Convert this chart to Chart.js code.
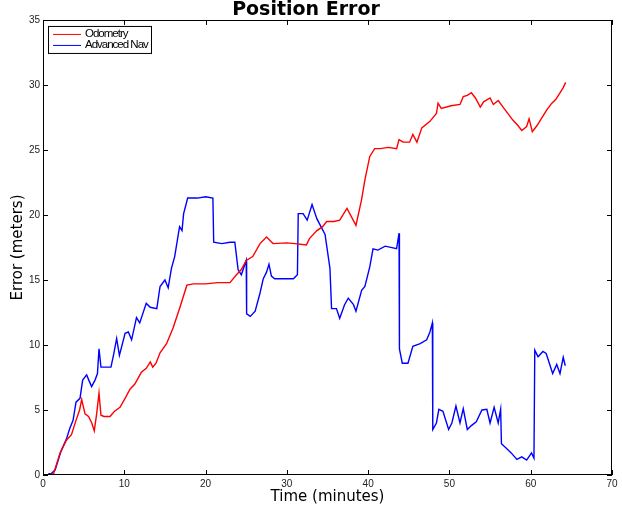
<!DOCTYPE html>
<html>
<head>
<meta charset="utf-8">
<title>Position Error</title>
<script src="https://cdn.jsdelivr.net/npm/chart.js@4/dist/chart.umd.min.js"></script>
<style>
  body { margin: 0; background: #fff; }
  #wrap { width: 622px; height: 507px; }
</style>
</head>
<body>
<div id="wrap"><canvas id="chart" width="622" height="507"></canvas></div>
<script>
// values (minutes, meters)
const odometryTime = [0.75, 1.3, 2.1, 2.9, 3.5, 4.06, 4.5, 4.76, 5.17, 5.6, 6.0, 6.31, 6.6, 6.89, 7.13, 7.5, 8.24, 8.8, 9.47, 10.1,
  10.7, 11.3, 12.1, 12.7, 13.2, 13.5, 13.9, 14.4, 15.2, 16.0, 16.85, 17.7, 18.5, 20.0, 21.5, 23.0, 23.8, 24.4, 25.0, 25.8,
  26.7, 27.5, 28.3, 30.0, 31.0, 32.4, 32.8, 33.7, 34.4, 34.9, 35.8, 36.5, 37.4, 38.0, 38.5, 39.2, 39.6, 40.2, 40.8, 41.5,
  42.5, 43.5, 43.8, 44.3, 45.1, 45.5, 46.0, 46.6, 47.6, 48.4, 48.6, 49.0, 50.2, 51.3, 51.7, 52.2, 52.7, 53.2, 53.8, 54.2,
  55.0, 55.4, 56.0, 56.6, 57.2, 57.8, 58.4, 58.9, 59.5, 59.8, 60.2, 60.8, 61.5, 62.0, 62.6, 63.1, 63.6, 64.0, 64.3];
const odometryError = [0, 0.1, 1.7, 2.7, 3.1, 4.2, 5.0, 5.8, 4.7, 4.5, 4.0, 3.4, 4.7, 6.3, 4.6, 4.5, 4.5, 4.9, 5.2, 5.9,
  6.6, 7.0, 7.9, 8.2, 8.7, 8.3, 8.6, 9.4, 10.1, 11.3, 12.9, 14.6, 14.7, 14.7, 14.8, 14.8, 15.4, 15.8, 16.5, 16.8,
  17.8, 18.3, 17.8, 17.85, 17.8, 17.7, 18.2, 18.8, 19.1, 19.5, 19.5, 19.6, 20.5, 19.8, 19.2, 21.2, 22.7, 24.5, 25.1, 25.1,
  25.2, 25.1, 25.8, 25.6, 25.6, 26.2, 25.6, 26.7, 27.2, 27.8, 28.6, 28.2, 28.4, 28.5, 29.1, 29.2, 29.4, 29.0, 28.3, 28.7,
  29.0, 28.5, 28.8, 28.3, 27.8, 27.3, 26.9, 26.5, 26.8, 27.4, 26.4, 26.9, 27.6, 28.1, 28.6, 28.9, 29.4, 29.8, 30.2];

const navTime = [0.65, 1.0, 1.5, 2.2, 2.9, 3.3, 3.7, 4.06, 4.55, 4.88, 5.37, 5.7, 5.98, 6.4, 6.7, 6.89, 7.13, 8.36, 8.7, 9.06,
  9.4, 10.1, 10.5, 10.9, 11.5, 11.9, 12.7, 13.2, 14.0, 14.4, 15.0, 15.4, 15.8, 16.2, 16.8, 17.1, 17.3, 17.8, 19.0, 20.0,
  20.9, 21.0, 22.0, 23.0, 23.6, 24.0, 24.4, 25.0, 25.05, 25.5, 26.1, 26.7, 27.1, 27.5, 27.8, 28.1, 28.5, 30.8, 31.3, 31.4,
  32.0, 32.5, 33.1, 33.7, 34.2, 34.7, 35.3, 35.5, 36.1, 36.5, 37.1, 37.55, 38.2, 38.5, 39.2, 39.6, 40.2, 40.6, 41.2, 42.1,
  43.5, 43.8, 43.85, 44.2, 44.9, 45.5, 46.4, 47.2, 47.6, 47.9, 47.95, 48.4, 48.7, 49.2, 49.9, 50.3, 50.8, 51.3, 51.7, 52.2,
  52.7, 53.3, 54.0, 54.6, 55.0, 55.5, 56.0, 56.3, 56.4, 57.0, 57.6, 58.3, 58.9, 59.5, 60.1, 60.4, 60.5, 60.9, 61.5, 61.9,
  62.7, 63.2, 63.6, 64.0, 64.25];
const navError = [0.1, 0.1, 0.4, 1.8, 2.8, 3.6, 4.2, 5.6, 5.9, 7.3, 7.7, 7.2, 6.8, 7.3, 7.8, 9.7, 8.3, 8.3, 9.3, 10.5,
  9.2, 10.9, 11.0, 10.4, 12.1, 11.7, 13.2, 12.9, 12.8, 14.5, 15.0, 14.4, 15.9, 16.8, 19.1, 18.8, 20.1, 21.3, 21.3, 21.4,
  21.3, 17.9, 17.8, 17.9, 17.9, 15.8, 15.4, 16.5, 12.4, 12.2, 12.6, 14.0, 15.1, 15.6, 16.2, 15.3, 15.1, 15.1, 15.4, 20.1,
  20.1, 19.6, 20.8, 19.7, 19.1, 18.5, 15.9, 12.8, 12.8, 12.05, 13.1, 13.6, 13.1, 12.6, 14.2, 14.5, 16.0, 17.4, 17.3, 17.6,
  17.4, 18.6, 9.7, 8.6, 8.6, 9.9, 10.1, 10.4, 11.0, 11.7, 3.5, 4.0, 5.05, 4.9, 3.5, 4.0, 5.3, 4.0, 5.1, 3.5,
  3.8, 4.1, 5.0, 5.05, 4.0, 5.2, 4.0, 5.05, 2.4, 2.05, 1.7, 1.2, 1.4, 1.15, 1.7, 1.3, 9.6, 9.1, 9.5, 9.35,
  7.8, 8.5, 7.8, 9.05, 8.4];

const seriesLabels = ['Odometry', 'Advanced Nav'];
const seriesColors = ['#ff0000', '#0000ff'];
const xTicks = [0, 10, 20, 30, 40, 50, 60, 70];
const yTicks = [0, 5, 10, 15, 20, 25, 30, 35];

function toPoints(xs, ys) {
  return xs.map((x, i) => ({ x: x, y: ys[i] }));
}

// matlab style box with inward ticks on all four sides
const boxPlugin = {
  id: 'box',
  afterDatasetsDraw(chart) {
    const { ctx, chartArea: a, scales } = chart;
    ctx.save();
    ctx.strokeStyle = '#000';
    ctx.lineWidth = 1;
    ctx.beginPath();
    xTicks.forEach(v => {
      const px = Math.round(scales.x.getPixelForValue(v)) + 0.5;
      ctx.moveTo(px, a.bottom); ctx.lineTo(px, a.bottom - 5);
      ctx.moveTo(px, a.top); ctx.lineTo(px, a.top + 5);
    });
    yTicks.forEach(v => {
      const py = Math.round(scales.y.getPixelForValue(v)) + 0.5;
      ctx.moveTo(a.left, py); ctx.lineTo(a.left + 5, py);
      ctx.moveTo(a.right, py); ctx.lineTo(a.right - 5, py);
    });
    ctx.stroke();
    ctx.strokeRect(Math.round(a.left) + 0.5, Math.round(a.top) + 0.5,
      Math.round(a.right - a.left) - 1, Math.round(a.bottom - a.top) - 1);
    ctx.restore();
  }
};

const legendPlugin = {
  id: 'boxLegend',
  afterDraw(chart) {
    const { ctx, chartArea: a } = chart;
    const x0 = a.left + 5, y0 = a.top + 6;
    ctx.save();
    ctx.fillStyle = '#fff';
    ctx.fillRect(x0, y0, 103, 27);
    ctx.strokeStyle = '#000';
    ctx.lineWidth = 1;
    ctx.strokeRect(x0 + 0.5, y0 + 0.5, 103, 27);
    ctx.font = '11.5px "Liberation Sans", Arial, sans-serif';
    ctx.letterSpacing = '-1px';
    ctx.textBaseline = 'middle';
    chart.data.datasets.forEach((ds, i) => {
      const y = y0 + 8 + i * 11;
      ctx.strokeStyle = ds.borderColor;
      ctx.beginPath();
      ctx.moveTo(x0 + 5, y + 0.5); ctx.lineTo(x0 + 33, y + 0.5);
      ctx.stroke();
      ctx.fillStyle = '#000';
      ctx.fillText(ds.label, x0 + 37, y);
    });
    ctx.restore();
  }
};

document.addEventListener('DOMContentLoaded', function () {
  const ctx = document.getElementById('chart').getContext('2d');
  new Chart(ctx, {
    type: 'line',
    data: {
      datasets: [
        { label: seriesLabels[0], data: toPoints(odometryTime, odometryError), borderColor: seriesColors[0] },
        { label: seriesLabels[1], data: toPoints(navTime, navError), borderColor: seriesColors[1] }
      ]
    },
    options: {
      responsive: false,
      animation: false,
      layout: { padding: { top: 0, right: 10, bottom: 0, left: 0 } },
      elements: {
        point: { radius: 0 },
        line: { borderWidth: 1.4, tension: 0 }
      },
      plugins: {
        legend: { display: false },
        tooltip: { enabled: false },
        title: {
          display: true,
          text: 'Position Error',
          color: '#000',
          font: { family: '"DejaVu Sans", sans-serif', size: 19, weight: 'bold', lineHeight: 1.05 },
          padding: { top: 0, bottom: 0 }
        }
      },
      scales: {
        x: {
          type: 'linear', min: 0, max: 70,
          afterBuildTicks: s => { s.ticks = xTicks.map(v => ({ value: v })); },
          afterFit: s => { s.height = 32; },
          grid: { display: false, drawTicks: false },
          border: { display: false },
          ticks: { color: '#222', padding: 3, maxRotation: 0, font: { family: '"Liberation Sans", Arial, sans-serif', size: 10 } },
          title: { display: true, text: 'Time (minutes)', color: '#000', padding: { top: 0, bottom: 1 },
            font: { family: '"DejaVu Sans", sans-serif', size: 15 } }
        },
        y: {
          type: 'linear', min: 0, max: 35,
          afterBuildTicks: s => { s.ticks = yTicks.map(v => ({ value: v })); },
          afterFit: s => { s.width = 43; },
          grid: { display: false, drawTicks: false },
          border: { display: false },
          ticks: { color: '#222', padding: 3, font: { family: '"Liberation Sans", Arial, sans-serif', size: 10 } },
          title: { display: true, text: 'Error (meters)', color: '#000', padding: { top: 9, bottom: 0 },
            font: { family: '"DejaVu Sans", sans-serif', size: 15 } }
        }
      }
    },
    plugins: [boxPlugin, legendPlugin]
  });
});
</script>
</body>
</html>
